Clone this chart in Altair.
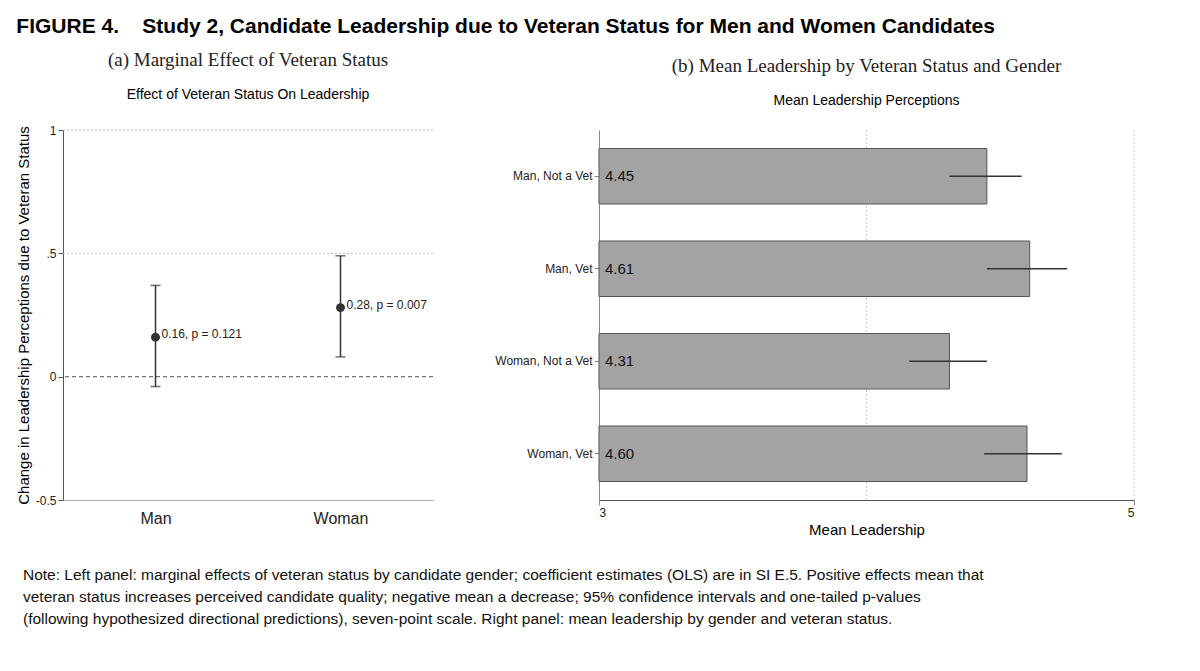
import altair as alt
import pandas as pd

genders = ["Man", "Woman"]
effects = [0.16, 0.28]
eff_lo = [-0.04, 0.08]
eff_hi = [0.37, 0.49]
eff_labels = ["0.16, p = 0.121", "0.28, p = 0.007"]

groups = ["Man, Not a Vet", "Man, Vet", "Woman, Not a Vet", "Woman, Vet"]
means = [4.45, 4.61, 4.31, 4.60]
mean_lo = [4.31, 4.45, 4.16, 4.44]
mean_hi = [4.58, 4.75, 4.45, 4.73]

note_lines = [
    "Note: Left panel: marginal effects of veteran status by candidate gender; coefficient estimates (OLS) are in SI E.5. Positive effects mean that",
    "veteran status increases perceived candidate quality; negative mean a decrease; 95% confidence intervals and one-tailed p-values",
    "(following hypothesized directional predictions), seven-point scale. Right panel: mean leadership by gender and veteran status.",
]

FONT = "Liberation Sans"
ldf = pd.DataFrame({"g": genders, "e": effects, "lo": eff_lo, "hi": eff_hi, "lab": eff_labels})
rdf = pd.DataFrame({"g": groups, "m": means, "lo": mean_lo, "hi": mean_hi,
                    "lab": [f"{v:.2f}" for v in means], "base": [3.0] * 4})

ysc = alt.Scale(domain=[-0.5, 1], nice=False)
xl = alt.X("g:N", scale=alt.Scale(type="point", padding=0.5), sort=genders,
           axis=alt.Axis(title=None, labelAngle=0, labelFontSize=16, labelColor="#222",
                         domainColor="#aaa", ticks=False, labelPadding=10))
yl = alt.Y("e:Q", scale=ysc, axis=alt.Axis(values=[-0.5, 0, 0.5, 1],
           labelExpr="datum.value==0.5?'.5':(datum.value==1?'1':(datum.value==0?'0':'-0.5'))",
           title="Change in Leadership Perceptions due to Veteran Status", titleFontSize=15,
           titleFontWeight="normal", grid=False, domainColor="#555", tickColor="#555", labelColor="#222"))
grid = alt.Chart(pd.DataFrame({"v": [0.5, 1]})).mark_rule(color="#bbb", strokeDash=[2, 2]).encode(y=alt.Y("v:Q", scale=ysc))
zero = alt.Chart(pd.DataFrame({"v": [0]})).mark_rule(color="#555", strokeDash=[4, 3]).encode(y=alt.Y("v:Q", scale=ysc))
base = alt.Chart(ldf)
err = base.mark_rule(color="#333", strokeWidth=1.5).encode(x=xl, y=alt.Y("lo:Q", scale=ysc), y2="hi:Q")
caps = base.mark_tick(color="#333", size=10, thickness=1.5).encode(x=xl, y=alt.Y("lo:Q", scale=ysc))
caps2 = base.mark_tick(color="#333", size=10, thickness=1.5).encode(x=xl, y=alt.Y("hi:Q", scale=ysc))
pts = base.mark_point(filled=True, size=80, color="#333", opacity=1).encode(x=xl, y=yl)
txt = base.mark_text(align="left", dx=6, dy=-3, fontSize=12, font=FONT, color="#222").encode(x=xl, y=alt.Y("e:Q", scale=ysc), text="lab:N")
left = alt.layer(grid, zero, err, caps, caps2, pts, txt).properties(
    width=370, height=370,
    title=alt.TitleParams("(a) Marginal Effect of Veteran Status", subtitle="Effect of Veteran Status On Leadership",
                          font="Liberation Serif", fontSize=19, fontWeight="normal", subtitleFont=FONT,
                          subtitleFontSize=14, subtitlePadding=18, anchor="middle", offset=22, color="#222"))

xsc = alt.Scale(domain=[3, 5], nice=False)
yr = alt.Y("g:N", sort=groups, scale=alt.Scale(paddingInner=0.4, paddingOuter=0.2),
           axis=alt.Axis(title=None, labelFontSize=12, labelColor="#222", ticks=True, domainColor="#888", tickColor="#888"))
vgrid = alt.Chart(pd.DataFrame({"v": [4, 5]})).mark_rule(color="#ccc", strokeDash=[2, 2]).encode(x=alt.X("v:Q", scale=xsc))
rb = alt.Chart(rdf)
bars = rb.mark_bar(color="#a3a3a3", stroke="#555", strokeWidth=1).encode(
    x=alt.X("m:Q", scale=xsc, axis=alt.Axis(values=[3, 4, 5], format="d", title="Mean Leadership", titleFontSize=15,
            titleFontWeight="normal", grid=False, labelColor="#222", domainColor="#555")),
    x2="base:Q", y=yr)
rerr = rb.mark_rule(color="#333", strokeWidth=1.5).encode(x=alt.X("lo:Q", scale=xsc), x2="hi:Q", y=yr)
rtxt = rb.mark_text(align="left", dx=6, fontSize=15, font=FONT, color="#111").encode(x=alt.X("base:Q", scale=xsc), y=yr, text="lab:N")
right = alt.layer(vgrid, bars, rerr, rtxt).properties(
    width=535, height=370,
    title=alt.TitleParams("(b) Mean Leadership by Veteran Status and Gender", subtitle="Mean Leadership Perceptions",
                          font="Liberation Serif", fontSize=19, fontWeight="normal", subtitleFont=FONT,
                          subtitleFontSize=14, subtitlePadding=18, anchor="middle", offset=22, color="#222"))

panels = alt.hconcat(left, right, spacing=60)

note = alt.Chart(pd.DataFrame({"t": note_lines, "i": [0, 1, 2]})).mark_text(
    align="left", baseline="top", fontSize=15.5, font=FONT, color="#111").encode(
    x=alt.value(-40), y=alt.Y("i:O", axis=None, scale=alt.Scale(paddingOuter=0)), text="t:N").properties(width=1100, height=66)

chart = alt.vconcat(panels, note, spacing=20).properties(
    padding=8,
    title=alt.TitleParams("FIGURE 4.\u00a0\u00a0\u00a0 Study 2, Candidate Leadership due to Veteran Status for Men and Women Candidates",
                          font=FONT, fontSize=21, fontWeight="bold", anchor="start", color="#000", offset=14)
).configure_view(stroke=None).configure_axis(labelFont=FONT, titleFont=FONT, labelFontSize=12)

chart.save("out.html", embed_options={"renderer": "svg", "actions": False})
